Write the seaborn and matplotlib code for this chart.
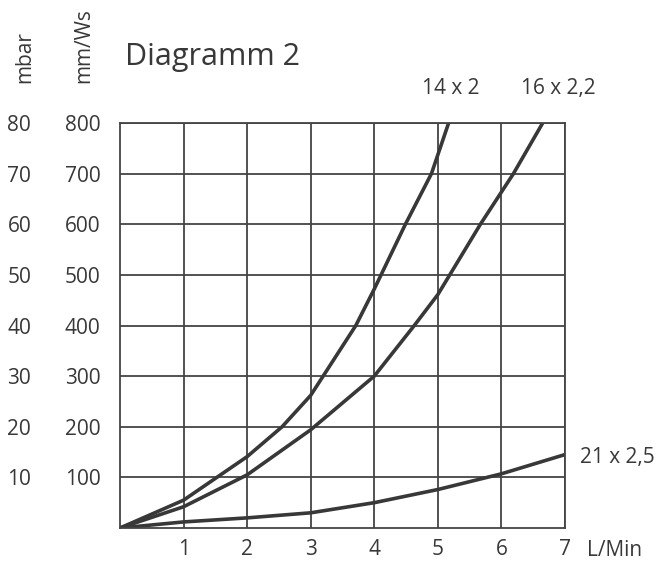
import matplotlib
matplotlib.use('Agg')
import matplotlib.pyplot as plt
import seaborn as sns
import pandas as pd

# curves (L/Min -> mm/Ws)
x_14 = [0, 1, 2, 2.55, 3, 3.71, 4, 4.49, 4.9, 5.17]
y_14 = [0, 55, 141, 200, 262, 400, 472, 600, 700, 800]
x_16 = [0, 1, 2, 3, 4, 4.63, 5, 5.67, 6.19, 6.65]
y_16 = [0, 42, 105, 194, 300, 400, 461, 600, 700, 800]
x_21 = [0, 1, 2, 3, 4, 5, 6, 7]
y_21 = [0, 12, 20, 30, 50, 76, 107, 145]

x_ticks = [1, 2, 3, 4, 5, 6, 7]
mmws_ticks = [100, 200, 300, 400, 500, 600, 700, 800]
mbar_ticks = [10, 20, 30, 40, 50, 60, 70, 80]

df = pd.concat([
    pd.DataFrame({'flow': x_14, 'head': y_14, 'pipe': '14 x 2'}),
    pd.DataFrame({'flow': x_16, 'head': y_16, 'pipe': '16 x 2,2'}),
    pd.DataFrame({'flow': x_21, 'head': y_21, 'pipe': '21 x 2,5'}),
])

sns.set_style('white')
plt.rcParams['font.family'] = ['Open Sans', 'DejaVu Sans']
ink = '#383838'

fig = plt.figure(figsize=(6.65, 5.62), dpi=100)
ax = fig.add_axes([0.1805, 0.0605, 0.669, 0.7206])

sns.lineplot(data=df, x='flow', y='head', units='pipe', estimator=None,
             sort=False, color=ink, linewidth=2.6, ax=ax, legend=False)

ax.set_xlim(0, 7)
ax.set_ylim(0, 800)
ax.set_xticks(x_ticks)
ax.set_yticks(mmws_ticks)
ax.grid(True, color='#444444', linewidth=1.3)
for s in ax.spines.values():
    s.set_color('#444444')
    s.set_linewidth(1.3)
ax.tick_params(length=0, labelsize=15, colors=ink)
ax.tick_params(axis='y', pad=14)
ax.tick_params(axis='x', pad=8)
ax.set_xlabel('')
ax.set_ylabel('')

sec = ax.secondary_yaxis('left', functions=(lambda v: v / 10, lambda v: v * 10))
sec.set_yticks(mbar_ticks)
sec.tick_params(length=0, labelsize=15, colors=ink, pad=64)
sec.spines['left'].set_visible(False)

fig.text(125 / 665, 1 - 65 / 562, 'Diagramm 2', fontsize=22, color=ink,
         ha='left', va='baseline')
fig.text(25 / 665, 1 - 83 / 562, 'mbar', fontsize=15, color=ink,
         rotation=90, ha='center', va='bottom')
fig.text(84 / 665, 1 - 83 / 562, 'mm/Ws', fontsize=15, color=ink,
         rotation=90, ha='center', va='bottom')

ax.text(5.21, 869, '14 x 2', fontsize=15, color=ink, ha='center', va='center', clip_on=False)
ax.text(6.9, 869, '16 x 2,2', fontsize=15, color=ink, ha='center', va='center', clip_on=False)
ax.text(7.24, 139, '21 x 2,5', fontsize=15, color=ink, ha='left', va='center', clip_on=False)
ax.annotate('L/Min', xy=(1, 0), xycoords='axes fraction', xytext=(16, -16),
            textcoords='offset points', fontsize=15, color=ink,
            ha='left', va='center', annotation_clip=False)

fig.savefig('out.png', dpi=100)
